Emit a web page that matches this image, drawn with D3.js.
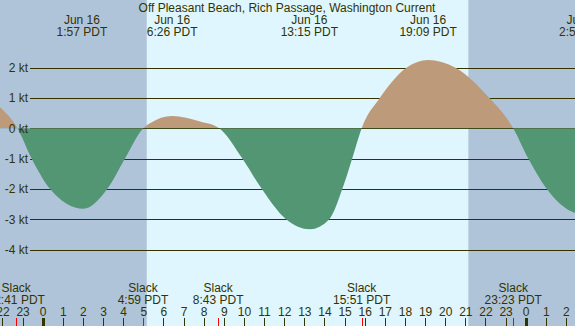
<!DOCTYPE html>
<html>
<head>
<meta charset="utf-8">
<script src="https://cdn.jsdelivr.net/npm/d3@7"></script>
<style>
  body { margin: 0; background: #fff; }
  svg { display: block; font-family: "Liberation Sans", Arial, sans-serif; }
</style>
</head>
<body>
<div id="chart"></div>
<script>
// hours since Jun 16 00:00 PDT, current speed in knots (+ flood, - ebb)
const curveHours = [-3.0, -2.12, -1.25, -0.55, 0.36, 2.02, 3.21, 4.09, 5.0, 5.33, 6.43, 7.82, 8.77,
  9.92, 10.88, 12.09, 13.28, 14.24, 14.89, 15.38, 15.85, 16.76, 18.09, 19.15, 20.49, 22.19, 23.38,
  24.13, 25.04, 26.45, 26.92];
const curveKnots = [1.2, 0.7, 0, -1.0, -2.0, -2.66, -2.0, -1.0, 0, 0.16, 0.4, 0.22, 0,
  -1.0, -2.0, -3.0, -3.33, -3.0, -2.0, -1.0, 0, 1.0, 2.0, 2.25, 2.0, 1.0, 0,
  -1.0, -2.0, -2.8, -2.85];

// max flood / max ebb events (top labels)
const peakHours = [1.95, 6.433, 13.25, 19.15, 26.92];
const peakLabels = [["Jun 16", "1:57 PDT"], ["Jun 16", "6:26 PDT"], ["Jun 16", "13:15 PDT"],
  ["Jun 16", "19:09 PDT"], ["Jun 17", "2:55 PDT"]];

// slack water events (bottom labels)
const slackHours = [-1.317, 4.983, 8.717, 15.85, 23.383];
const slackLabels = ["22:41 PDT", "4:59 PDT", "8:43 PDT", "15:51 PDT", "23:23 PDT"];

// sunrise / sunset
const sunrise = 5.17, sunset = 21.15;
const knotTicks = [2, 1, 0, -1, -2, -3, -4];

const W = 575, H = 326;
const ink = "#333300";

const svg = d3.select("#chart").append("svg").attr("width", W).attr("height", H);

const x = d3.scaleLinear().domain([-2.122, 26.45]).range([0, W]);
const y = d3.scaleLinear().domain([-4, 2]).range([249.5, 67.5]);

// night / day background
svg.append("rect").attr("x", 0).attr("y", 0).attr("width", W).attr("height", H).attr("fill", "#b0c4d9");
svg.append("rect").attr("x", x(sunrise)).attr("y", 0)
  .attr("width", x(sunset) - x(sunrise)).attr("height", H).attr("fill", "#dff6fe");

// grid lines
svg.append("g").selectAll("line").data(knotTicks).join("line")
  .attr("x1", 30).attr("x2", W)
  .attr("y1", (d) => Math.round(y(d)) + 0.5).attr("y2", (d) => Math.round(y(d)) + 0.5)
  .attr("stroke", ink).attr("stroke-width", 1);

const pts = curveHours.map((h, i) => [h, curveKnots[i]]);
const area = d3.area()
  .x((d) => x(d[0]))
  .y0(y(0))
  .y1((d) => y(d[1]))
  .curve(d3.curveMonotoneX);

const defs = svg.append("defs");
defs.append("clipPath").attr("id", "pos").append("rect")
  .attr("x", 0).attr("y", 0).attr("width", W).attr("height", y(0));
defs.append("clipPath").attr("id", "neg").append("rect")
  .attr("x", 0).attr("y", y(0)).attr("width", W).attr("height", H - y(0));

svg.append("path").datum(pts).attr("d", area).attr("fill", "#bd9a7a").attr("clip-path", "url(#pos)");
svg.append("path").datum(pts).attr("d", area).attr("fill", "#529673").attr("clip-path", "url(#neg)");

// y labels
svg.append("g").selectAll("text").data(knotTicks).join("text")
  .attr("x", 28).attr("y", (d) => y(d) + 4.5)
  .attr("text-anchor", "end").attr("font-size", "12px").attr("fill", ink)
  .text((d) => `${d} kt`);

// title
svg.append("text").attr("x", 287).attr("y", 11.5).attr("text-anchor", "middle")
  .attr("font-size", "12px").attr("fill", ink)
  .text("Off Pleasant Beach, Rich Passage, Washington Current");

// peak labels
const peaks = svg.append("g").selectAll("g").data(peakHours).join("g")
  .attr("transform", (d) => `translate(${x(d)},0)`);
peaks.append("text").attr("y", 24).attr("text-anchor", "middle").attr("font-size", "12px")
  .attr("fill", ink).text((d, i) => peakLabels[i][0]);
peaks.append("text").attr("y", 35.5).attr("text-anchor", "middle").attr("font-size", "12px")
  .attr("fill", ink).text((d, i) => peakLabels[i][1]);

// slack labels
const slacks = svg.append("g").selectAll("g").data(slackHours).join("g")
  .attr("transform", (d) => `translate(${x(d)},0)`);
slacks.append("text").attr("y", 292).attr("text-anchor", "middle").attr("font-size", "12px")
  .attr("fill", ink).text("Slack");
slacks.append("text").attr("y", 303.5).attr("text-anchor", "middle").attr("font-size", "12px")
  .attr("fill", ink).text((d, i) => slackLabels[i]);

// hour axis
const hours = d3.range(-2, 27);
const axis = d3.axisBottom(x).tickValues(hours).tickSize(0).tickPadding(0)
  .tickFormat((h) => String((h + 24) % 24));
const ax = svg.append("g").attr("transform", "translate(0,316)").call(axis);
ax.select(".domain").remove();
ax.selectAll("text").attr("font-size", "12px").attr("fill", ink)
  .attr("font-family", "Liberation Sans, Arial, sans-serif").attr("y", 0).attr("dy", null);

svg.append("g").selectAll("line").data(hours).join("line")
  .attr("x1", (d) => Math.round(x(d)) + 0.5).attr("x2", (d) => Math.round(x(d)) + 0.5)
  .attr("y1", 318).attr("y2", H)
  .attr("stroke", ink).attr("stroke-width", (d) => (d % 24 === 0 ? 3 : 1));

svg.append("g").selectAll("line").data(slackHours).join("line")
  .attr("x1", (d) => Math.round(x(d)) + 0.5).attr("x2", (d) => Math.round(x(d)) + 0.5)
  .attr("y1", 318).attr("y2", H)
  .attr("stroke", "#ff0000").attr("stroke-width", 1);
</script>
</body>
</html>
